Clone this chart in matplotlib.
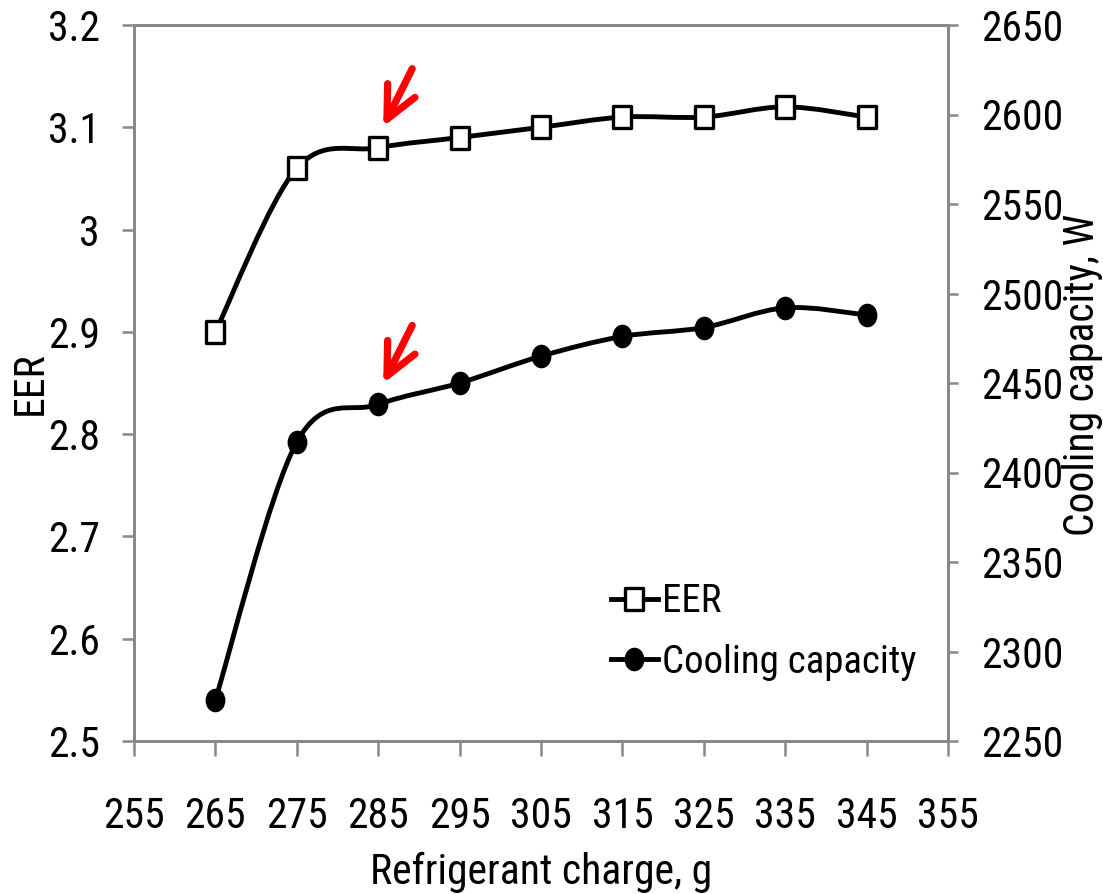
import numpy as np
import matplotlib
matplotlib.use("Agg")
import matplotlib.pyplot as plt
import matplotlib.font_manager as fm
from matplotlib.path import Path
from matplotlib.patches import PathPatch
from matplotlib.markers import MarkerStyle
from matplotlib.lines import Line2D
from matplotlib.transforms import Affine2D, ScaledTranslation

# data
charge = [265, 275, 285, 295, 305, 315, 325, 335, 345]
eer = [2.90, 3.06, 3.08, 3.09, 3.10, 3.11, 3.11, 3.12, 3.11]
cooling = [2273, 2417, 2438, 2450, 2465, 2476, 2481, 2492, 2488]

x_ticks = list(range(255, 356, 10))
eer_ticks = [2.5, 2.6, 2.7, 2.8, 2.9, 3.0, 3.1, 3.2]
cap_ticks = list(range(2250, 2651, 50))

GREY = "#888888"

# the original uses a narrow Arial-like face; take a narrow one if there is any
installed = {f.name for f in fm.fontManager.ttflist}
narrow = None
for name in ["Liberation Sans Narrow", "Arial Narrow", "Nimbus Sans Narrow", "Roboto Condensed",
             "Noto Sans Condensed", "Open Sans Condensed", "Noto Sans SemiCondensed",
             "Open Sans SemiCondensed"]:
    if name in installed:
        narrow = name
        break
if narrow is None:
    plt.rcParams["font.family"] = ["Liberation Sans", "DejaVu Sans"]
    TICK, LEG = 25, 24
else:
    plt.rcParams["font.family"] = [narrow, "Liberation Sans", "DejaVu Sans"]
    TICK, LEG = 30, 28


def smooth_path(x, y):
    # Excel style smoothed line: cubic bezier through each point
    pts = np.column_stack([x, y]).astype(float)
    n = len(pts)
    verts = [pts[0]]
    codes = [Path.MOVETO]
    for i in range(n - 1):
        p0 = pts[max(i - 1, 0)]
        p1 = pts[i]
        p2 = pts[i + 1]
        p3 = pts[min(i + 2, n - 1)]
        verts += [p1 + (p2 - p0) / 6, p2 - (p3 - p1) / 6, p2]
        codes += [Path.CURVE4] * 3
    return Path(verts, codes)


square = MarkerStyle(Path.unit_rectangle().transformed(
    Affine2D().translate(-0.5, -0.5).scale(0.8, 1.0)))
ellipse = MarkerStyle(Path.unit_circle().transformed(Affine2D().scale(0.83, 1.0)))

fig = plt.figure(figsize=(11.03, 8.94), dpi=100)
ax = fig.add_axes([134 / 1103, 153 / 894, 814 / 1103, 716 / 894])
ax2 = ax.twinx()

ax.add_patch(PathPatch(smooth_path(charge, eer), fill=False, color="black", lw=3.5, zorder=3))
ax.plot(charge, eer, linestyle="none", marker=square, markersize=15.5,
        markerfacecolor="white", markeredgecolor="black", markeredgewidth=2.4, zorder=4)

ax2.add_patch(PathPatch(smooth_path(charge, cooling), fill=False, color="black", lw=3.5, zorder=3))
ax2.plot(charge, cooling, linestyle="none", marker=ellipse, markersize=16,
         color="black", zorder=4)

ax.set_xlim(255, 355)
ax.set_ylim(2.5, 3.2)
ax2.set_ylim(2250, 2650)
ax.set_xticks(x_ticks)
ax.set_xticklabels([str(t) for t in x_ticks])
ax.set_yticks(eer_ticks)
ax.set_yticklabels(["{:g}".format(t) for t in eer_ticks])
ax2.set_yticks(cap_ticks)
ax2.set_yticklabels([str(t) for t in cap_ticks])

for a in (ax, ax2):
    for s in a.spines.values():
        s.set_color(GREY)
        s.set_linewidth(2)
ax.tick_params(axis="x", length=10.5, width=1.8, color=GREY, pad=29, labelsize=TICK)
ax.tick_params(axis="y", length=8.5, width=1.8, color=GREY, pad=16, labelsize=TICK)
ax2.tick_params(axis="y", length=7.5, width=1.8, color=GREY, pad=16, labelsize=TICK)

ax.set_xlabel("Refrigerant charge, g", fontsize=TICK, va="baseline")
ax.xaxis.set_label_coords(0.5, -0.2)
ax.set_ylabel("EER", fontsize=TICK, va="center")
ax.yaxis.set_label_coords(-0.128, 0.5)
ax2.set_ylabel("Cooling capacity, W", fontsize=TICK, va="center", rotation=90)
ax2.yaxis.set_label_coords(1.165, 0.512)


def red_arrow(axis, x, y):
    tip = axis.transData + ScaledTranslation(0.05, 0.21, fig.dpi_scale_trans)
    tail = axis.transData + ScaledTranslation(0.34, 0.79, fig.dpi_scale_trans)
    axis.annotate("", xy=(x, y), xycoords=tip, xytext=(x, y), textcoords=tail,
                  arrowprops=dict(arrowstyle="->,head_length=1.05,head_width=0.5",
                                  color="red", lw=5.2, mutation_scale=22,
                                  shrinkA=0, shrinkB=0))


red_arrow(ax, charge[2], eer[2])
red_arrow(ax2, charge[2], cooling[2])

handles = [
    Line2D([], [], color="black", lw=3.5, marker=square, markersize=15.5,
           markerfacecolor="white", markeredgecolor="black", markeredgewidth=2.4),
    Line2D([], [], color="black", lw=3.5, marker=ellipse, markersize=16),
]
ax2.legend(handles, ["EER", "Cooling capacity"], loc="center left",
           bbox_to_anchor=(611 / 1103, (894 - 632) / 894), bbox_transform=fig.transFigure,
           frameon=False, fontsize=LEG, handlelength=1.2, handletextpad=0.12,
           labelspacing=0.6, borderpad=0, borderaxespad=0)

fig.savefig("out.png", dpi=100)
